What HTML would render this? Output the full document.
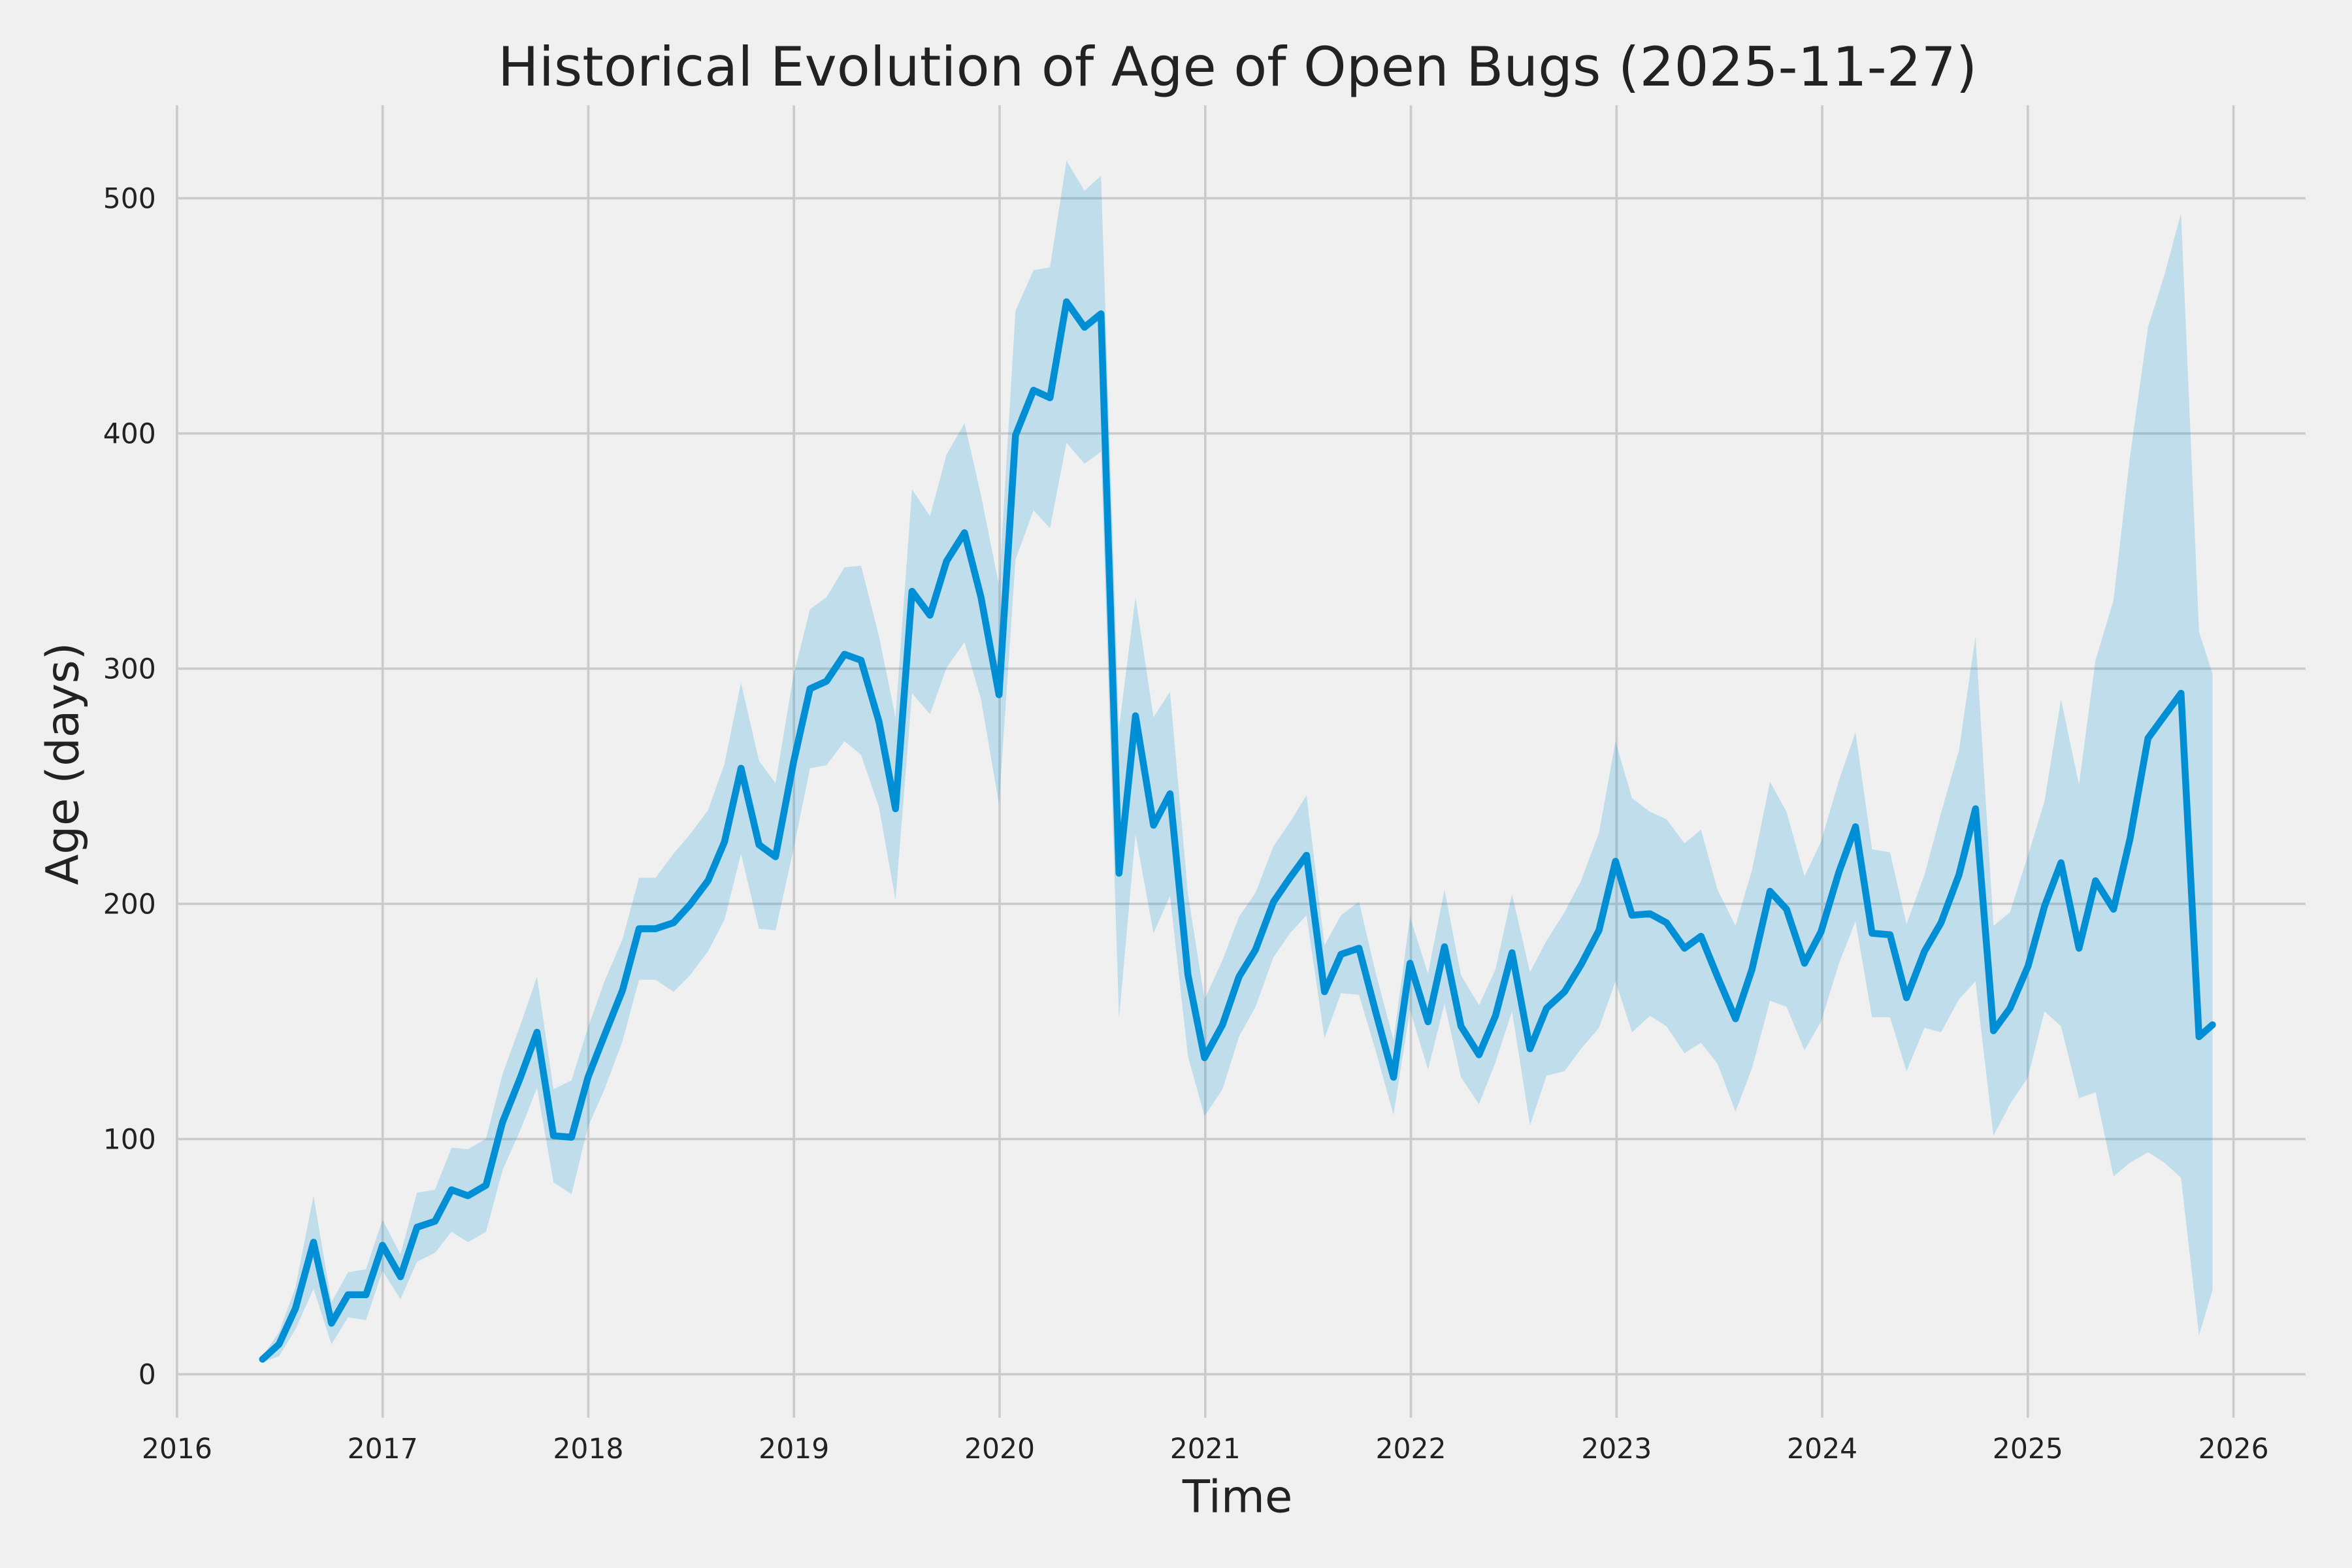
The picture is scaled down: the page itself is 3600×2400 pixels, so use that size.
<!DOCTYPE html>
<html><head><meta charset="utf-8"><style>
html,body{margin:0;padding:0;background:#f0f0f0}
svg{display:block}
text{font-family:"DejaVu Sans","Liberation Sans",sans-serif;fill:#222}
</style></head><body>
<svg id="s" width="3600" height="2400" viewBox="0 0 1568 1045" xmlns="http://www.w3.org/2000/svg">
<rect width="1568" height="1045" fill="#f0f0f0"/>
<g id="grid" stroke="#cbcbcb" stroke-width="1.6"></g>
<path id="band" fill="#008fd5" fill-opacity="0.2" stroke="none"/>
<path id="line" fill="none" stroke="#008fd5" stroke-width="4.6" stroke-linejoin="round" stroke-linecap="round"/>
<g id="lab"></g>
<text x="825" y="57" font-size="36.3" text-anchor="middle">Historical Evolution of Age of Open Bugs (2025-11-27)</text>
<text x="825" y="1008" font-size="30" text-anchor="middle">Time</text>
<text transform="translate(52,509) rotate(-90)" font-size="30" text-anchor="middle">Age (days)</text>
</svg>
<script>
var L=[[175,906],[186,896],[197,872],[209,828],[221,882],[232,863],[244,863],[255,830],[267,851],[278,818],[290,814],[301,793],[312,797],[324,790],[335,748],[347,718],[358,688],[369,757],[381,758],[392,718],[403,690],[415,660],[426,619],[437,619],[449,615],[460,603],[472,587],[483,561],[494,512],[506,563],[517,571],[529,508],[540,459],[551,454],[563,436],[574,440],[586,481],[597,539],[608,394],[620,410],[631,374],[643,355],[654,398],[666,463],[677,290],[689,260],[700,265],[711,201],[723,218],[734,209],[746,582],[757,477],[769,550],[780,529],[792,650],[803,705],[815,683],[826,651],[837,633],[849,601],[860,585],[871,570],[883,661],[894,636],[906,632],[917,674],[929,718],[940,642],[952,681],[963,631],[974,684],[986,703],[997,677],[1008,635],[1020,699],[1031,672],[1043,661],[1054,643],[1066,620],[1077,574],[1088,610],[1100,609],[1111,615],[1123,632],[1134,624],[1145,651],[1157,679],[1168,646],[1180,594],[1191,606],[1203,642],[1214,621],[1226,581],[1237,551],[1248,622],[1260,623],[1271,665],[1283,634],[1294,615],[1306,583],[1317,539],[1329,687],[1340,672],[1352,644],[1363,604],[1374,575],[1386,632],[1397,587],[1409,606],[1420,559],[1432,492],[1443,477],[1454,462],[1466,691],[1475,683]];
var U=[904,888,858,797,868,848,846,813,836,795,793,765,766,759,716,683,651,726,720,685,654,626,585,585,569,556,540,509,455,507,522,450,406,398,378,377,424,478,326,344,303,282,330,390,207,180,178,107,127,117,485,398,478,461,596,666,640,611,595,564,548,530,630,610,601,648,693,611,649,593,650,670,646,596,648,627,608,587,555,494,532,541,546,562,553,593,617,580,521,541,584,561,520,488,566,568,616,583,542,500,424,617,608,570,534,466,523,440,400,304,218,183,142,421,449];
var ov={1386:732,1397:728,1409:784,1420:775,1432:768,1443:775,1454:785,1466:890,1475:860};
var g=document.getElementById('grid'),lab=document.getElementById('lab'),ns='http://www.w3.org/2000/svg';
function el(p,t,a,txt){var e=document.createElementNS(ns,t);for(var k in a)e.setAttribute(k,a[k]);if(txt)e.textContent=txt;p.appendChild(e);}
for(var i=0;i<=10;i++){var x=118+i*137.1;el(g,'line',{x1:x,y1:70,x2:x,y2:945});el(lab,'text',{x:x,y:972,'font-size':18.5,'text-anchor':'middle'},String(2016+i));}
for(var v=0;v<=500;v+=100){var y=916-v*1.568;el(g,'line',{x1:118,y1:y,x2:1537,y2:y});el(lab,'text',{x:104,y:y+6.5,'font-size':18.5,'text-anchor':'end'},String(v));}
var d='M'+L.map(function(p){return p[0]+','+p[1]}).join('L');
document.getElementById('line').setAttribute('d',d);
var up=L.map(function(p,i){return p[0]+','+U[i]});
var lo=L.map(function(p,i){var l=ov[p[0]]!==undefined?ov[p[0]]:Math.min(2*p[1]-U[i],914);return p[0]+','+l}).reverse();
document.getElementById('band').setAttribute('d','M'+up.join('L')+'L'+lo.join('L')+'Z');
</script>
</body></html>
